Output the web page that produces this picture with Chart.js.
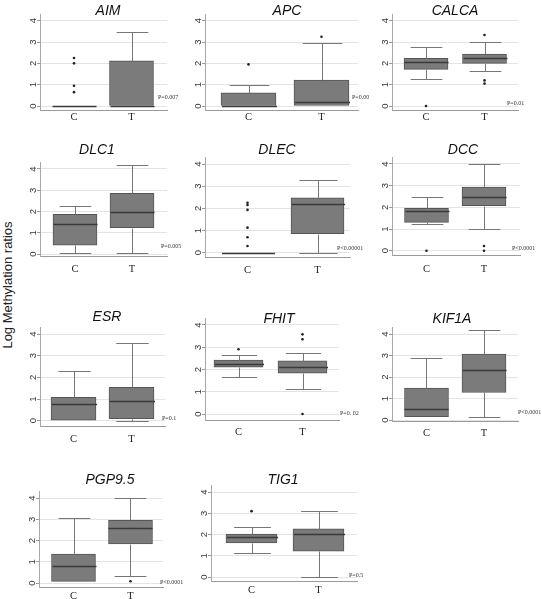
<!DOCTYPE html>
<html>
<head>
<meta charset="utf-8">
<script src="https://cdn.jsdelivr.net/npm/chart.js@4.4.1/dist/chart.umd.min.js"></script>
<style>
  html, body { margin:0; padding:0; background:#fff; overflow:hidden; }
  #fig { position:relative; width:542px; height:599px; overflow:hidden; }
  #fig canvas { position:absolute; }
  #ylab {
    position:absolute; left:7px; top:285px;
    transform:translate(-50%,-50%) rotate(-90deg);
    font:13px "Liberation Sans", Arial, sans-serif; color:#222; white-space:nowrap;
  }
</style>
</head>
<body>
<div id="fig"><div id="ylab">Log Methylation ratios</div></div>
<script>
// ---------- DATA ----------
const genes   = ['AIM','APC','CALCA','DLC1','DLEC','DCC','ESR','FHIT','KIF1A','PGP9.5','TIG1'];
const groups  = ['C','T'];
const pValues = ['P=0.007','P=0.00','P=0.01','P=0.005','P<0.00001','P<0.0001','P=0.1','P=0. 02','P<0.0001','P<0.0001','P=0.5'];
const yTicks  = [0,1,2,3,4];

// [C, T] per gene
const whiskerLow  = [[0,0],[0,0],[1.28,1.64],[0.07,0.07],[0,0],[1.22,1.02],[0,0],[1.66,1.12],[0.16,0.16],[0.08,0.31],[1.15,0]];
const quart1      = [[0,0],[0,0],[1.72,2.0],[0.42,1.24],[0,0.86],[1.31,2.08],[0,0.09],[2.1,1.84],[0.16,1.28],[0.08,1.84],[1.6,1.21]];
const medians     = [[0,0],[0,0.2],[2.05,2.23],[1.4,2.0],[0,2.19],[1.81,2.47],[0.75,0.89],[2.25,2.1],[0.51,2.32],[0.78,2.57],[1.88,2.04]];
const quart3      = [[0,2.12],[0.62,1.22],[2.23,2.44],[1.87,2.85],[0,2.48],[1.96,2.93],[1.08,1.54],[2.42,2.39],[1.48,3.07],[1.36,2.95],[2.02,2.27]];
const whiskerHigh = [[0,3.45],[0.98,2.95],[2.78,2.98],[2.27,4.19],[0,3.28],[2.5,4.0],[2.29,3.57],[2.64,2.75],[2.88,4.17],[3.06,4.0],[2.35,3.1]];
const outliersC   = [[2.25,2.0,0.95,0.65],[1.95],[0],[],[2.25,2.15,1.93,1.13,0.7,0.3],[0],[],[2.91],[],[],[3.1]];
const outliersT   = [[],[3.25],[3.33,1.2,1.05],[],[],[0.22,0],[],[3.58,3.36,0],[],[0.08],[]];

// ---------- LAYOUT (page px) ----------
const panels = [
  {L:40,  R:167, y4:20.7, y0:106,   ax:110,   cC:74,    cT:131.5, bw:44, tx:108, ty:11,  px:158, py:97,  ly:117},
  {L:205, R:358, y4:20.7, y0:106,   ax:110,   cC:248.5, cT:321.5, bw:55, tx:287, ty:11,  px:352, py:97,  ly:117},
  {L:392, R:518, y4:20.7, y0:106,   ax:110,   cC:426,   cT:484.5, bw:44, tx:455, ty:11,  px:507, py:103, ly:117},
  {L:40,  R:167, y4:169,  y0:254,   ax:256.7, cC:75,    cT:132,   bw:44, tx:97,  ty:150, px:161, py:246, ly:269},
  {L:205, R:350, y4:164,  y0:252.7, ax:257,   cC:247.5, cT:317.5, bw:53, tx:277, ty:150, px:337, py:248, ly:270},
  {L:392, R:520, y4:164,  y0:250.7, ax:255.7, cC:426.5, cT:484,   bw:44, tx:463, ty:150, px:512, py:248, ly:269},
  {L:40,  R:165, y4:334,  y0:420.7, ax:426,   cC:73.5,  cT:131.5, bw:45, tx:107, ty:317, px:162, py:418, ly:439},
  {L:205, R:339, y4:325,  y0:414,   ax:420,   cC:238.5, cT:302.5, bw:49, tx:279, ty:319, px:340, py:413, ly:432},
  {L:392, R:518, y4:334,  y0:420,   ax:421.7, cC:426.5, cT:484,   bw:44, tx:452, ty:319, px:518, py:412, ly:433},
  {L:39,  R:163, y4:498,  y0:583,   ax:587,   cC:73.5,  cT:130.5, bw:44, tx:110, ty:480, px:160, py:582, ly:596},
  {L:211, R:357, y4:492,  y0:577,   ax:581,   cC:251.5, cT:318.5, bw:51, tx:283, ty:480, px:349, py:575, ly:590}
];

const Y_AXIS_W = 28;
const fig = document.getElementById('fig');

// whiskers, caps, medians, title and p label
function boxParts(i, p, cvLeft, cvTop){
  return {
    id: 'boxParts' + i,
    afterDatasetsDraw(chart){
      const {ctx, scales:{x, y}} = chart;
      const line = (x1,y1,x2,y2) => { ctx.beginPath(); ctx.moveTo(x1,y1); ctx.lineTo(x2,y2); ctx.stroke(); };
      const py = v => Math.round(y.getPixelForValue(v)) + 0.5;
      ctx.save();
      groups.forEach((g,k) => {
        const cx = Math.round(x.getPixelForValue(k+1)) + 0.5;
        const hw = p.bw/2, cw = p.bw*0.36;
        const lo = whiskerLow[i][k], q1 = quart1[i][k], md = medians[i][k], q3 = quart3[i][k], hi = whiskerHigh[i][k];
        ctx.strokeStyle = '#767676'; ctx.lineWidth = 1;
        if (hi > q3){ line(cx, py(q3), cx, py(hi)); line(cx-cw, py(hi), cx+cw, py(hi)); }
        if (lo < q1){ line(cx, py(q1), cx, py(lo)); line(cx-cw, py(lo), cx+cw, py(lo)); }
        ctx.strokeStyle = '#3a3a3a'; ctx.lineWidth = 1.3;
        line(cx-hw, py(md), cx+hw, py(md));
      });
      ctx.fillStyle = '#111';
      ctx.font = 'italic 14px "Liberation Sans", Arial, sans-serif';
      ctx.textAlign = 'center'; ctx.textBaseline = 'middle';
      ctx.fillText(genes[i], p.tx - cvLeft, p.ty - cvTop);
      ctx.fillStyle = '#333';
      ctx.font = '6px "Liberation Serif", serif';
      ctx.textAlign = 'left';
      ctx.fillText(pValues[i], p.px - cvLeft, p.py - cvTop);
      ctx.restore();
    }
  };
}

panels.forEach((p, i) => {
  const ppu = (p.y0 - p.y4) / 4;
  const yMax = 4.3;
  const yMin = -(p.ax - p.y0) / ppu;
  const areaTop = p.y4 - (yMax - 4) * ppu;
  const cvLeft = p.L - Y_AXIS_W, cvTop = p.ty - 12;
  const cvRight = p.R + 44, cvBottom = p.ly + 9;
  const u = p.cT - p.cC;
  const xMin = 1 - (p.cC - p.L) / u;
  const xMax = 2 + (p.R - p.cT) / u;

  const cv = document.createElement('canvas');
  cv.width = cvRight - cvLeft; cv.height = cvBottom - cvTop;
  cv.style.left = cvLeft + 'px'; cv.style.top = cvTop + 'px';
  cv.style.width = cv.width + 'px'; cv.style.height = cv.height + 'px';
  fig.appendChild(cv);

  const outPts = [
    ...outliersC[i].map(v => ({x:1, y:v})),
    ...outliersT[i].map(v => ({x:2, y:v}))
  ];

  new Chart(cv, {
    type: 'bar',
    data: {
      datasets: [
        {
          type: 'bar',
          data: groups.map((g,k) => ({x:k+1, y:[quart1[i][k], quart3[i][k]]})),
          backgroundColor: '#7b7b7b',
          borderColor: '#555',
          borderWidth: 1,
          borderSkipped: false,
          barThickness: p.bw
        },
        {
          type: 'scatter',
          data: outPts,
          pointRadius: 1.3,
          pointBackgroundColor: '#222',
          pointBorderWidth: 0
        }
      ]
    },
    options: {
      responsive: false,
      animation: false,
      devicePixelRatio: 1,
      layout: { padding: { top: areaTop - cvTop, left: 0, right: cvRight - p.R, bottom: 0 } },
      plugins: { legend:{display:false}, tooltip:{enabled:false}, title:{display:false} },
      scales: {
        x: {
          type: 'linear', min: xMin, max: xMax, offset: false,
          afterBuildTicks: s => { s.ticks = groups.map((g,k) => ({value:k+1})); },
          afterFit: s => { s.height = cvBottom - p.ax; },
          grid: { display:false, drawTicks:false, offset:false },
          border: { display:true, color:'#9a9a9a' },
          ticks: {
            callback: v => groups[v-1] ?? '',
            padding: p.ly - p.ax - 6,
            font: { family:'"Liberation Serif", serif', size:10.5 },
            color: '#222'
          }
        },
        y: {
          min: yMin, max: yMax,
          afterBuildTicks: s => { s.ticks = yTicks.map(v => ({value:v})); },
          afterFit: s => { s.width = Y_AXIS_W; },
          grid: { color:'#e4e4e4', tickLength:3, tickColor:'#999' },
          border: { display:true, color:'#a8a8a8' },
          ticks: {
            minRotation: 90, maxRotation: 90, crossAlign: 'center', padding: 1,
            font: { family:'"Liberation Sans", Arial, sans-serif', size:9.5 },
            color: '#333'
          }
        }
      }
    },
    plugins: [boxParts(i, p, cvLeft, cvTop)]
  });
});
</script>
</body>
</html>
